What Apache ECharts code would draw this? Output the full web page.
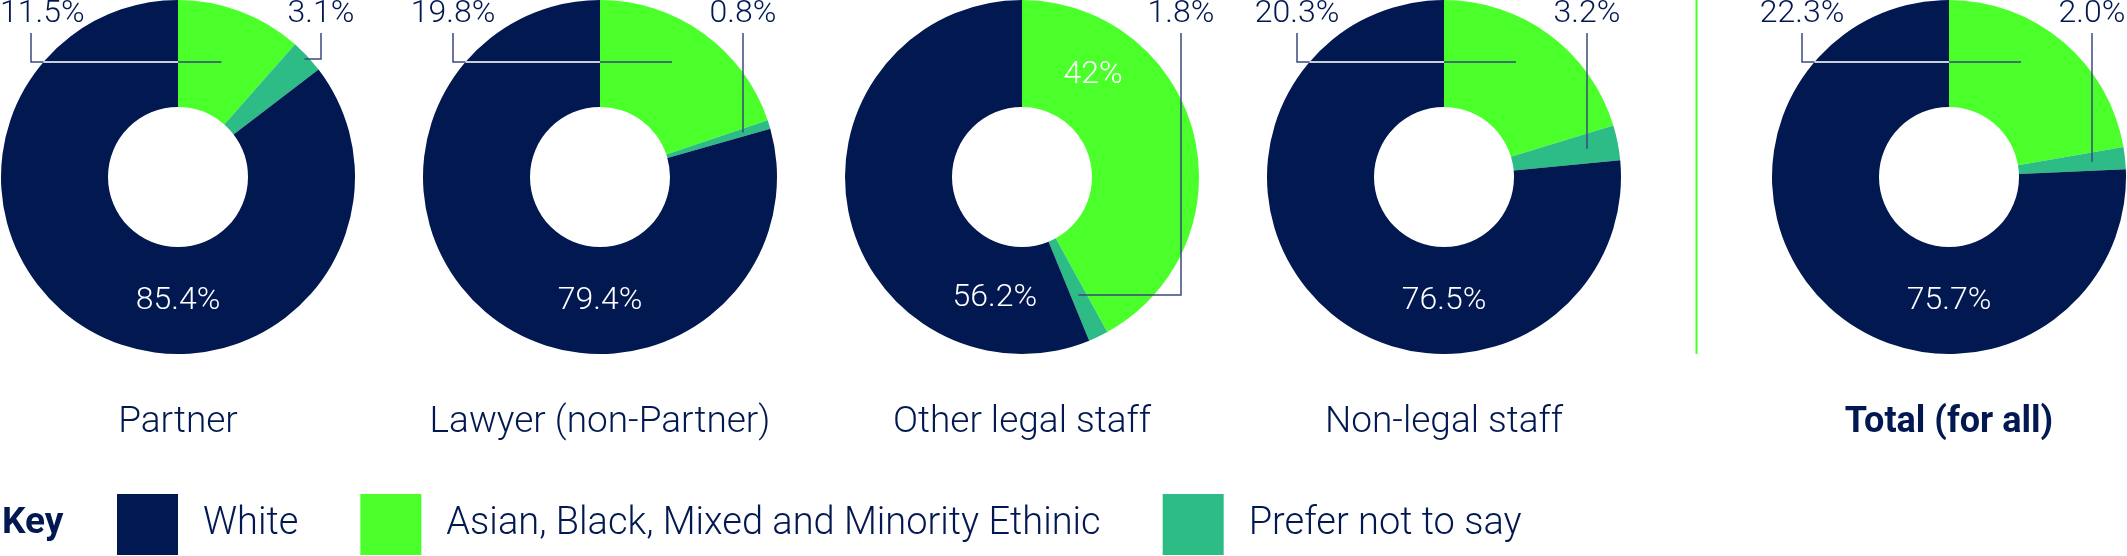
<!DOCTYPE html>
<html>
<head>
<meta charset="utf-8">
<script src="https://cdn.jsdelivr.net/npm/echarts@6/dist/echarts.min.js"></script>
<style>
  html, body { margin: 0; padding: 0; background: #fff; }
  #chart { width: 2127px; height: 556px; }
</style>
</head>
<body>
<div id="chart"></div>
<script>
// data (percent)
var categories = ['Partner', 'Lawyer (non-Partner)', 'Other legal staff', 'Non-legal staff', 'Total (for all)'];
var groups = ['White', 'Asian, Black, Mixed and Minority Ethinic', 'Prefer not to say'];
var whiteVals    = [85.4, 79.4, 56.2, 76.5, 75.7];
var minorityVals = [11.5, 19.8, 42, 20.3, 22.3];
var preferVals   = [3.1, 0.8, 1.8, 3.2, 2.0];

// layout / style
var NAVY = '#021850', GREEN = '#4bff2b', TEAL = '#2dbb86', LINE = '#3a4a7c';
var FONT = 'Roboto, "Noto Sans", sans-serif';
var centersX = [178, 600, 1022, 1444, 1949];
var cy = 177, rIn = 70, rOut = 177;
var W = 2127;
var HY = 115; // depth of the horizontal leader segments below the label row

function fmt(v) {
    return (Number.isInteger(v) && v >= 10) ? String(v) : v.toFixed(1);
}

// slice angles, clockwise from 12 o'clock (radians)
function sliceAngles(s, i) {
    var vals = [minorityVals[s], preferVals[s], whiteVals[s]];
    var sum = vals[0] + vals[1] + vals[2];
    var before = 0;
    for (var k = 0; k < i; k++) before += vals[k];
    var a0 = before / sum * 2 * Math.PI;
    var a1 = (before + vals[i]) / sum * 2 * Math.PI;
    return { start: a0, end: a1, mid: (a0 + a1) / 2, share: vals[i] / sum };
}

function makeLayout(s) {
    var cx = centersX[s];
    return function (p) {
        var i = p.dataIndex;
        var a = sliceAngles(s, i);
        var halfW = p.labelRect.width / 2;
        if (a.share > 0.3) {
            // big slice: label inside the ring
            var pref = (i === 2) ? Math.PI : 0;
            var pad = 35 * Math.PI / 180;
            var ang = Math.min(Math.max(pref, a.start + pad), a.end - pad);
            var r = 124;
            return {
                x: cx + r * Math.sin(ang), y: cy - r * Math.cos(ang),
                align: 'center', verticalAlign: 'middle'
            };
        }
        var top = 14, lineTop = 33;
        if (i === 0) {
            // label on the left, line goes across to the slice
            var lx = cx - 147;
            var dx = Math.min(HY * Math.tan(a.mid), 72);
            return {
                x: Math.max(lx, halfW), y: top, align: 'center', verticalAlign: 'middle',
                labelLinePoints: [[lx, lineTop], [lx, cy - HY], [cx + dx, cy - HY]]
            };
        }
        var sn = Math.sin(a.mid), cs = Math.cos(a.mid);
        var off = cs < 0 ? 159 : 143;
        var rx = cx + off;
        var pts;
        var rr = sn > 0 ? off / sn : 1e9;
        if (rr > rIn + 8 && rr < rOut - 8) {
            pts = [[rx, lineTop], [rx, cy - rr * cs]];
        } else {
            var t = 118 / Math.abs(cs);
            var ey = cy - t * cs;
            pts = [[rx, lineTop], [rx, ey], [cx + t * sn, ey]];
        }
        return {
            x: Math.min(rx, W - halfW - 1), y: top, align: 'center', verticalAlign: 'middle',
            labelLinePoints: pts
        };
    };
}

// white part of the left leader where it crosses the dark "White" slice
function makeLightLayout(s) {
    var cx = centersX[s];
    return function (p) {
        var base = makeLayout(s)(p);
        var xe = cx - Math.sqrt(rOut * rOut - HY * HY);
        return {
            x: base.x, y: base.y, align: 'center', verticalAlign: 'middle',
            labelLinePoints: [[xe, cy - HY], [cx, cy - HY]]
        };
    };
}

var baseSeries = [], labelSeries = [], lightSeries = [];
for (var s = 0; s < categories.length; s++) {
    var vals = [minorityVals[s], preferVals[s], whiteVals[s]];
    var cols = [GREEN, TEAL, NAVY];
    var names = [groups[1], groups[2], groups[0]];
    var data = [], ldata = [], wdata = [];
    for (var i = 0; i < 3; i++) {
        var inside = vals[i] > 30;
        data.push({ name: names[i], value: vals[i], itemStyle: { color: cols[i] } });
        ldata.push({
            name: names[i],
            value: vals[i],
            label: { color: inside ? '#fff' : NAVY },
            labelLine: { show: !inside }
        });
        var light = (i === 0 && !inside);
        wdata.push({
            name: names[i],
            value: vals[i],
            label: { show: light },
            labelLine: { show: light }
        });
    }
    var common = {
        type: 'pie',
        center: [centersX[s], cy],
        radius: [rIn, rOut],
        startAngle: 90,
        clockwise: true,
        avoidLabelOverlap: false,
        silent: true,
        animation: false
    };
    // coloured rings
    baseSeries.push(Object.assign({}, common, {
        name: categories[s],
        z: 2,
        label: { show: false },
        labelLine: { show: false },
        data: data
    }));
    // invisible copy on top that carries the labels and leader lines
    labelSeries.push(Object.assign({}, common, {
        name: categories[s] + ' labels',
        z: 5,
        legendHoverLink: false,
        itemStyle: { color: 'rgba(0,0,0,0)' },
        label: {
            show: true,
            position: 'outside',
            fontFamily: FONT,
            fontWeight: 300,
            fontSize: 32,
            formatter: function (p) { return fmt(p.value) + '%'; }
        },
        labelLine: { show: true, showAbove: true, lineStyle: { color: LINE, width: 1.5 } },
        labelLayout: makeLayout(s),
        data: ldata
    }));
    lightSeries.push(Object.assign({}, common, {
        name: categories[s] + ' lines',
        z: 6,
        legendHoverLink: false,
        itemStyle: { color: 'rgba(0,0,0,0)' },
        label: {
            position: 'outside',
            fontFamily: FONT,
            fontWeight: 300,
            fontSize: 32,
            color: 'rgba(0,0,0,0)',
            formatter: function (p) { return fmt(p.value) + '%'; }
        },
        labelLine: { showAbove: true, lineStyle: { color: '#ffffff', width: 1.5 } },
        labelLayout: makeLightLayout(s),
        data: wdata
    }));
}

var graphics = [];
for (var c = 0; c < categories.length; c++) {
    var isTotal = c === categories.length - 1;
    graphics.push({
        type: 'text',
        x: centersX[c], y: 423,
        style: {
            text: categories[c],
            fill: NAVY,
            font: (isTotal ? '700 36px ' : '300 37px ') + FONT,
            textAlign: 'center',
            textVerticalAlign: 'middle'
        }
    });
}
// divider between the groups and the total
var divX = (centersX[3] + centersX[4]) / 2;
graphics.push({
    type: 'line',
    shape: { x1: divX, y1: 0, x2: divX, y2: 354 },
    style: { stroke: GREEN, lineWidth: 2 }
});
graphics.push({
    type: 'text',
    x: 2, y: 524,
    style: { text: 'Key', fill: NAVY, font: '700 37px ' + FONT, textAlign: 'left', textVerticalAlign: 'middle' }
});

var chart = echarts.init(document.getElementById('chart'));
chart.setOption({
    backgroundColor: '#fff',
    animation: false,
    legend: {
        data: groups,
        left: 117,
        top: 494,
        padding: 0,
        itemWidth: 61,
        itemHeight: 61,
        itemGap: 62,
        icon: 'rect',
        selectedMode: false,
        textStyle: { fontFamily: FONT, fontWeight: 300, fontSize: 38, color: NAVY, padding: [0, 0, 0, 20] }
    },
    graphic: graphics,
    series: baseSeries.concat(labelSeries, lightSeries)
});
</script>
</body>
</html>
